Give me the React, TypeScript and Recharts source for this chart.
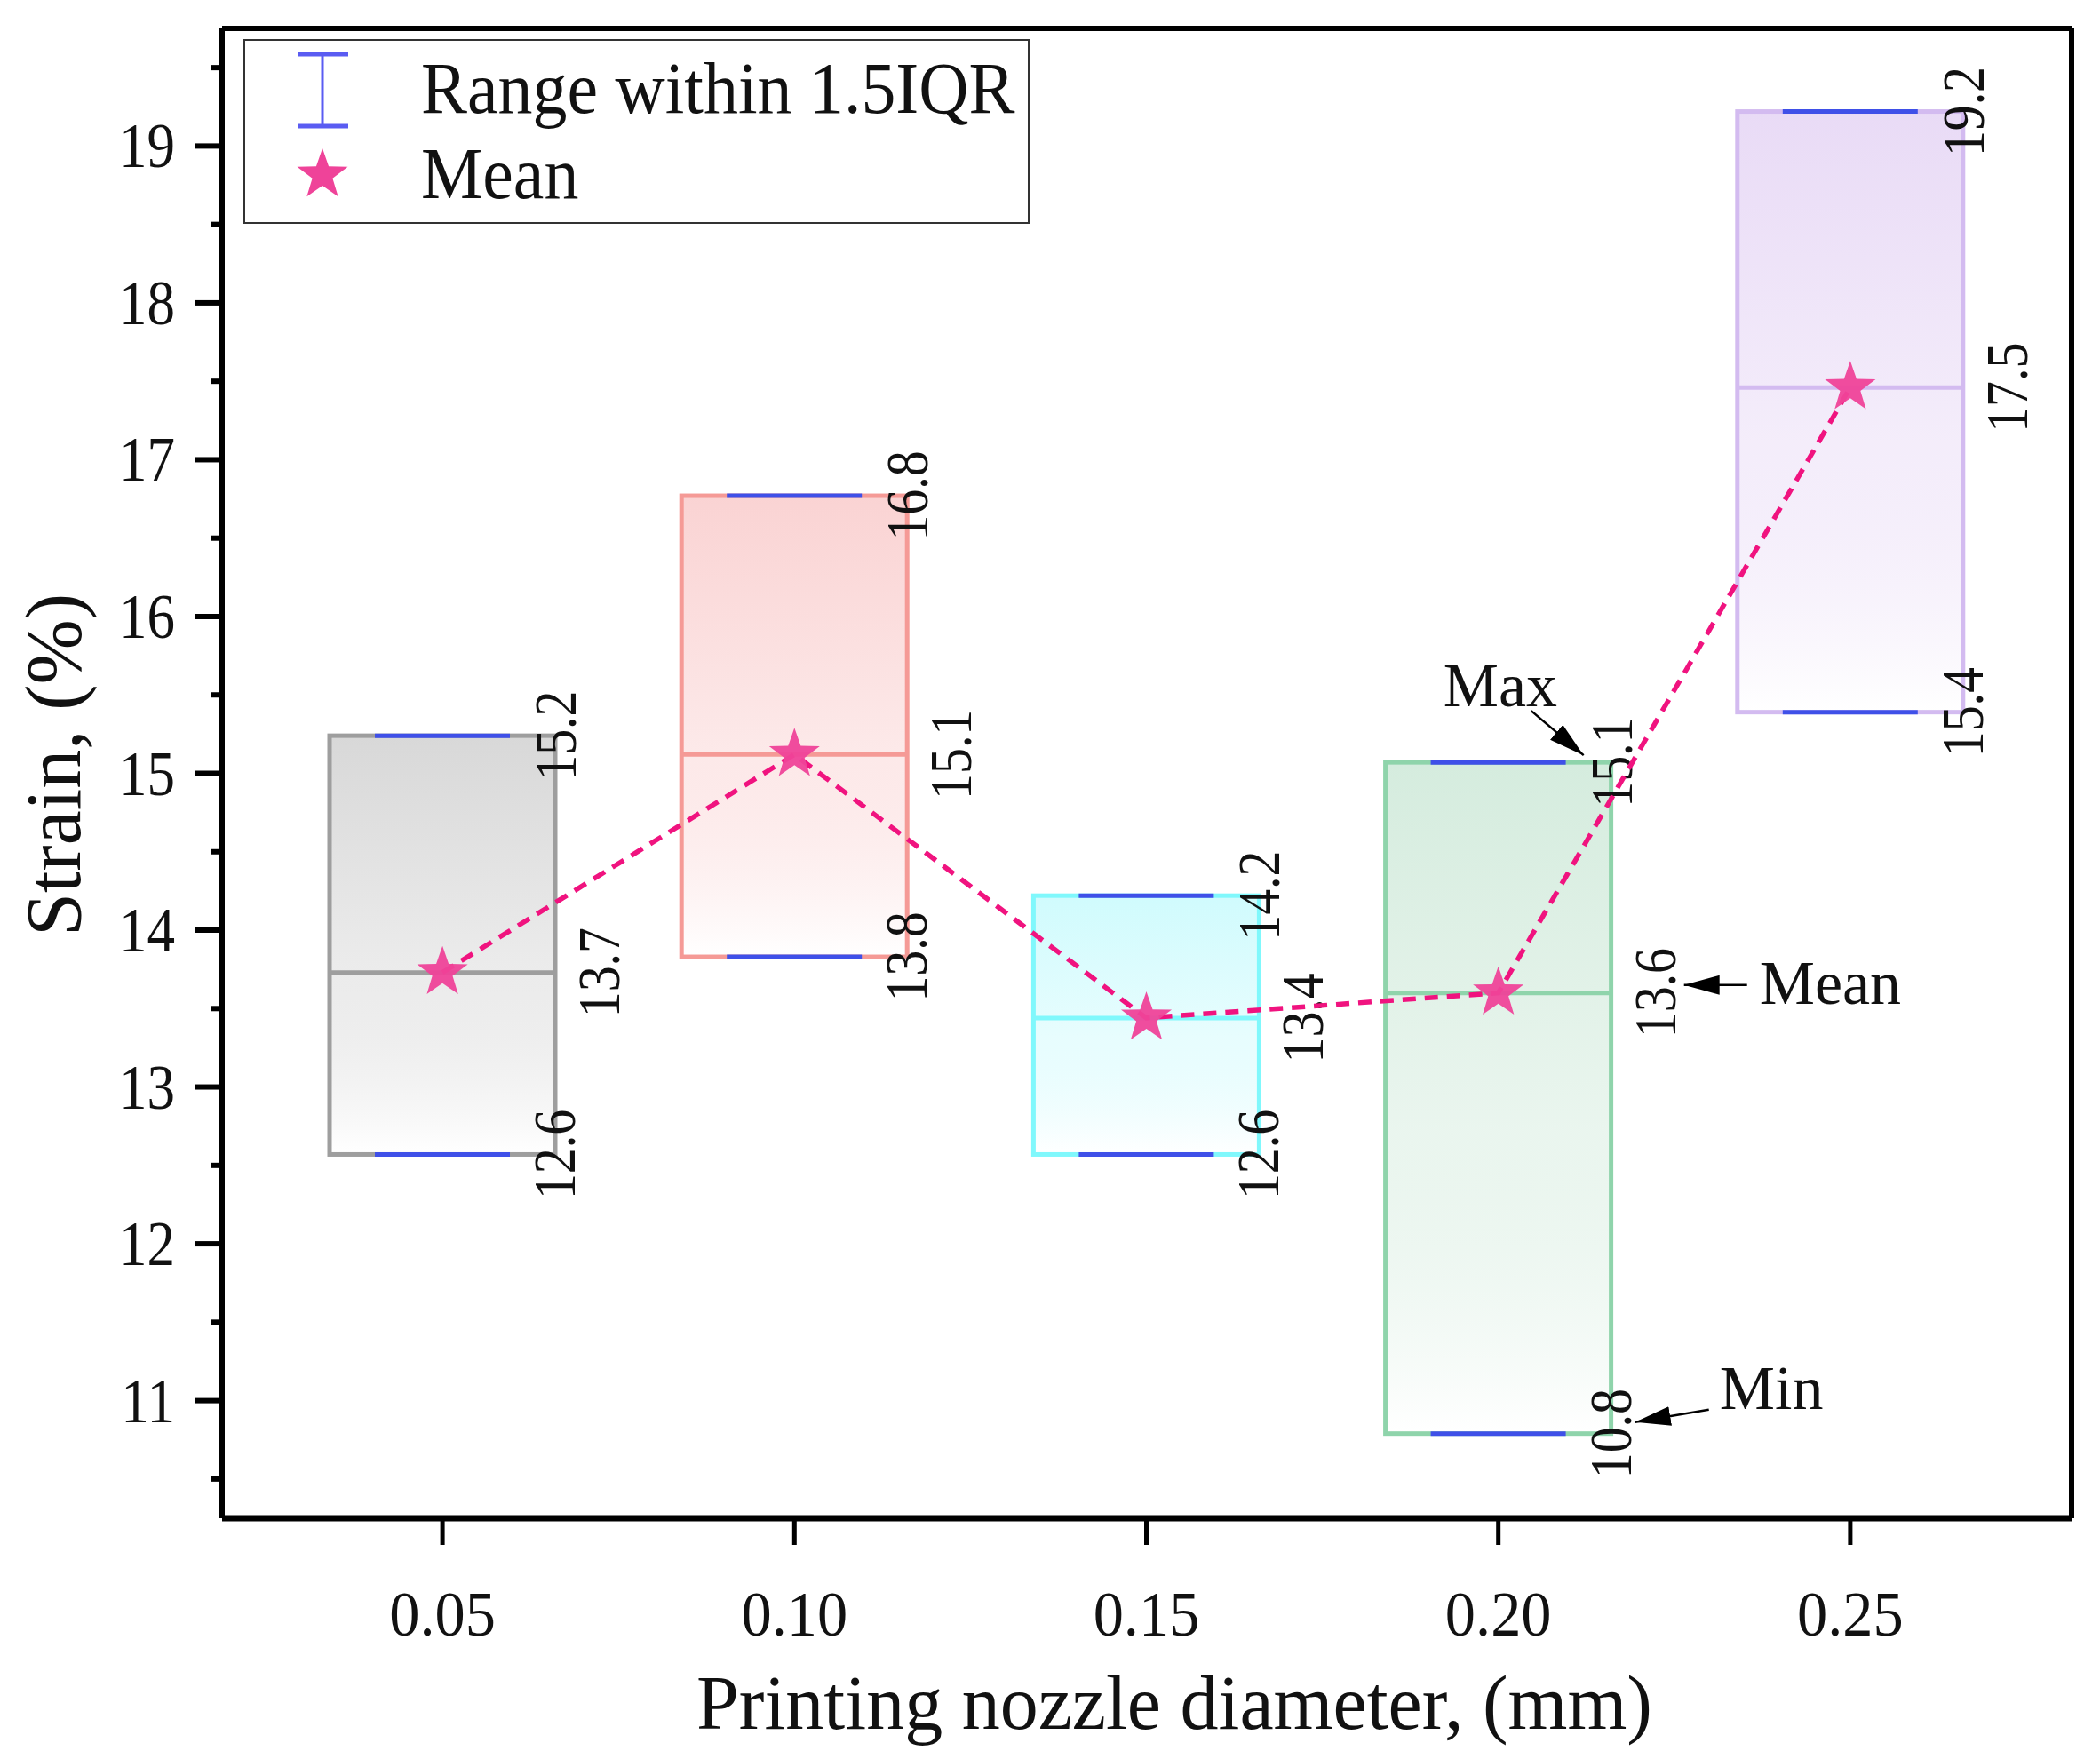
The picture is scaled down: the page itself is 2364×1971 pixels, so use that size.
import React from "react";
import { Bar, ComposedChart, Line, ReferenceDot, XAxis, YAxis } from "recharts";

const categories = ["0.05", "0.10", "0.15", "0.20", "0.25"];
const maxValues = [15.24, 16.77, 14.22, 15.07, 19.22];
const minValues = [12.57, 13.83, 12.57, 10.79, 15.39];
const meanValues = [13.73, 15.12, 13.44, 13.6, 17.46];
const boxColors = ["#9e9e9e", "#f59a96", "#80f8fc", "#8fd4ab", "#d3bbf0"];
const fillColors = ["#d8d8d8", "#fad3d3", "#d0fbfd", "#d5ecde", "#e9dbf6"];
const yTicks = [10.5, 11, 11.5, 12, 12.5, 13, 13.5, 14, 14.5, 15, 15.5, 16, 16.5, 17, 17.5, 18, 18.5, 19, 19.5];

const data = categories.map((cat, i) => ({
  cat,
  range: [minValues[i], maxValues[i]],
  mean: meanValues[i],
}));

const SERIF = '"Liberation Serif", "Times New Roman", serif';
const CAP = "#3f50e8";
const PINK = "#f0137f";

function starPath(cx: number, cy: number, R: number, r: number) {
  const pts: string[] = [];
  for (let k = 0; k < 10; k++) {
    const rad = k % 2 === 0 ? R : r;
    const a = -Math.PI / 2 + (k * Math.PI) / 5;
    pts.push(`${cx + rad * Math.cos(a)},${cy + rad * Math.sin(a)}`);
  }
  return `M${pts.join("L")}Z`;
}

function ValueLabel({ x, y, text }: { x: number; y: number; text: string }) {
  return (
    <text
      transform={`translate(${x},${y}) rotate(-90) scale(0.85,1)`}
      textAnchor="middle"
      fontFamily={SERIF}
      fontSize={68}
      fill="#111"
    >
      {text}
    </text>
  );
}

function BoxShape(props: any) {
  const { x, y, width, height, index, payload } = props;
  const [lo, hi] = payload.range;
  const top = Math.min(y, y + height);
  const h = Math.abs(height);
  const meanY = top + ((hi - payload.mean) / (hi - lo)) * h;
  const right = x + width;
  const cx = x + width / 2;
  const color = boxColors[index];
  return (
    <g>
      <rect x={x} y={top} width={width} height={h} fill={`url(#boxFill${index})`} stroke={color} strokeWidth={5} />
      <line x1={x} x2={right} y1={meanY} y2={meanY} stroke={color} strokeWidth={5} />
      <line x1={cx - 76} x2={cx + 76} y1={top} y2={top} stroke={CAP} strokeWidth={5} />
      <line x1={cx - 76} x2={cx + 76} y1={top + h} y2={top + h} stroke={CAP} strokeWidth={5} />
      <ValueLabel x={right + 23} y={top} text={hi.toFixed(1)} />
      <ValueLabel x={right + 72} y={meanY} text={payload.mean.toFixed(1)} />
      <ValueLabel x={right + 22} y={top + h} text={lo.toFixed(1)} />
    </g>
  );
}

function StarDot(props: any) {
  const { cx, cy, index } = props;
  return <path key={`s${index}`} d={starPath(cx, cy, 30, 12)} fill="#ef4399" fillOpacity={0.95} />;
}

function YTick(props: any) {
  const { x, y, payload } = props;
  const major = Number.isInteger(payload.value);
  return (
    <g>
      <line x1={x - (major ? 30 : 13)} x2={x} y1={y} y2={y} stroke="#000" strokeWidth={6} />
      {major && (
        <text
          transform={`translate(${x - 53},${y + 24}) scale(0.875,1)`}
          textAnchor="end"
          fontFamily={SERIF}
          fontSize={72}
          fill="#111"
        >
          {payload.value}
        </text>
      )}
    </g>
  );
}

function XTick(props: any) {
  const { x, y, payload } = props;
  return (
    <g>
      <line x1={x} x2={x} y1={y} y2={y + 30} stroke="#000" strokeWidth={5} />
      <text
        transform={`translate(${x},${y + 132}) scale(0.95,1)`}
        textAnchor="middle"
        fontFamily={SERIF}
        fontSize={72}
        fill="#111"
      >
        {payload.value}
      </text>
    </g>
  );
}

function Note({ cx, cy, text, tx, ty, x1, y1, x2, y2 }: any) {
  return (
    <g>
      <line x1={cx + x1} y1={cy + y1} x2={cx + x2} y2={cy + y2} stroke="#000" strokeWidth={2.5} markerEnd="url(#arrowHead)" />
      <text x={cx + tx} y={cy + ty} fontFamily={SERIF} fontSize={70} fill="#111">
        {text}
      </text>
    </g>
  );
}

export default function App() {
  return (
    <div style={{ position: "absolute", left: 0, top: 0, width: 2364, height: 1971, background: "#fff" }}>
      <ComposedChart width={2364} height={1971} data={data} margin={{ top: 31, right: 31, bottom: 0, left: 0 }}>
        <defs>
          {fillColors.map((c, i) => (
            <linearGradient key={i} id={`boxFill${i}`} x1="0" y1="0" x2="0" y2="1">
              <stop offset="0%" stopColor={c} stopOpacity={1} />
              <stop offset="55%" stopColor={c} stopOpacity={0.5} />
              <stop offset="100%" stopColor="#ffffff" stopOpacity={1} />
            </linearGradient>
          ))}
          <marker id="arrowHead" markerUnits="userSpaceOnUse" markerWidth={42} markerHeight={24} refX={40} refY={11} orient="auto">
            <path d="M0,0 L40,11 L0,22 Z" fill="#000" />
          </marker>
        </defs>
        <XAxis
          dataKey="cat"
          type="category"
          height={262}
          padding={{ left: 50, right: 51 }}
          axisLine={{ stroke: "#000", strokeWidth: 7 }}
          tickLine={false}
          tickSize={0}
          tickMargin={0}
          interval={0}
          tick={<XTick />}
        />
        <XAxis
          xAxisId="top"
          orientation="top"
          dataKey="cat"
          height={1}
          tick={false}
          tickLine={false}
          axisLine={{ stroke: "#000", strokeWidth: 6 }}
        />
        <YAxis
          type="number"
          domain={[10.25, 19.75]}
          ticks={yTicks}
          width={250}
          axisLine={{ stroke: "#000", strokeWidth: 6 }}
          tickLine={false}
          tickSize={0}
          tickMargin={0}
          interval={0}
          tick={<YTick />}
        />
        <YAxis
          yAxisId="right"
          orientation="right"
          width={1}
          domain={[10.25, 19.75]}
          tick={false}
          tickLine={false}
          axisLine={{ stroke: "#000", strokeWidth: 6 }}
        />
        <Bar dataKey="range" barSize={254} shape={<BoxShape />} isAnimationActive={false} />
        <Line
          dataKey="mean"
          type="linear"
          stroke={PINK}
          strokeWidth={5.5}
          strokeDasharray="15 10"
          dot={StarDot}
          activeDot={false}
          isAnimationActive={false}
        />
        <ReferenceDot
          x="0.20"
          y={maxValues[3]}
          r={0}
          shape={(p: any) => <Note cx={p.cx} cy={p.cy} text="Max" tx={-62} ty={-63} x1={37} y1={-58} x2={96} y2={-8} />}
        />
        <ReferenceDot
          x="0.20"
          y={meanValues[3]}
          r={0}
          shape={(p: any) => <Note cx={p.cx} cy={p.cy} text="Mean" tx={294} ty={12} x1={280} y1={-9} x2={209} y2={-9} />}
        />
        <ReferenceDot
          x="0.20"
          y={minValues[3]}
          r={0}
          shape={(p: any) => <Note cx={p.cx} cy={p.cy} text="Min" tx={249} ty={-28} x1={237} y1={-27} x2={154} y2={-13} />}
        />
      </ComposedChart>
      <svg width={2364} height={1971} style={{ position: "absolute", left: 0, top: 0, pointerEvents: "none" }}>
        <rect x={275} y={45} width={883} height={206} fill="none" stroke="#333" strokeWidth={2} />
        <line x1={363} x2={363} y1={61} y2={142} stroke="#5a5cf2" strokeWidth={3} />
        <line x1={335} x2={392} y1={61} y2={61} stroke="#5a5cf2" strokeWidth={5} />
        <line x1={335} x2={392} y1={142} y2={142} stroke="#5a5cf2" strokeWidth={5} />
        <text transform="translate(474,127) scale(0.95,1)" fontFamily={SERIF} fontSize={82} fill="#111">
          Range within 1.5IQR
        </text>
        <path d={starPath(363, 197, 30, 12)} fill="#ef4399" />
        <text transform="translate(474,223) scale(0.95,1)" fontFamily={SERIF} fontSize={82} fill="#111">
          Mean
        </text>
        <text x={1322} y={1946} textAnchor="middle" fontFamily={SERIF} fontSize={86} fill="#111">
          Printing nozzle diameter, (mm)
        </text>
        <text transform="translate(90,861) rotate(-90)" textAnchor="middle" fontFamily={SERIF} fontSize={88} fill="#111">
          Strain, (%)
        </text>
      </svg>
    </div>
  );
}
